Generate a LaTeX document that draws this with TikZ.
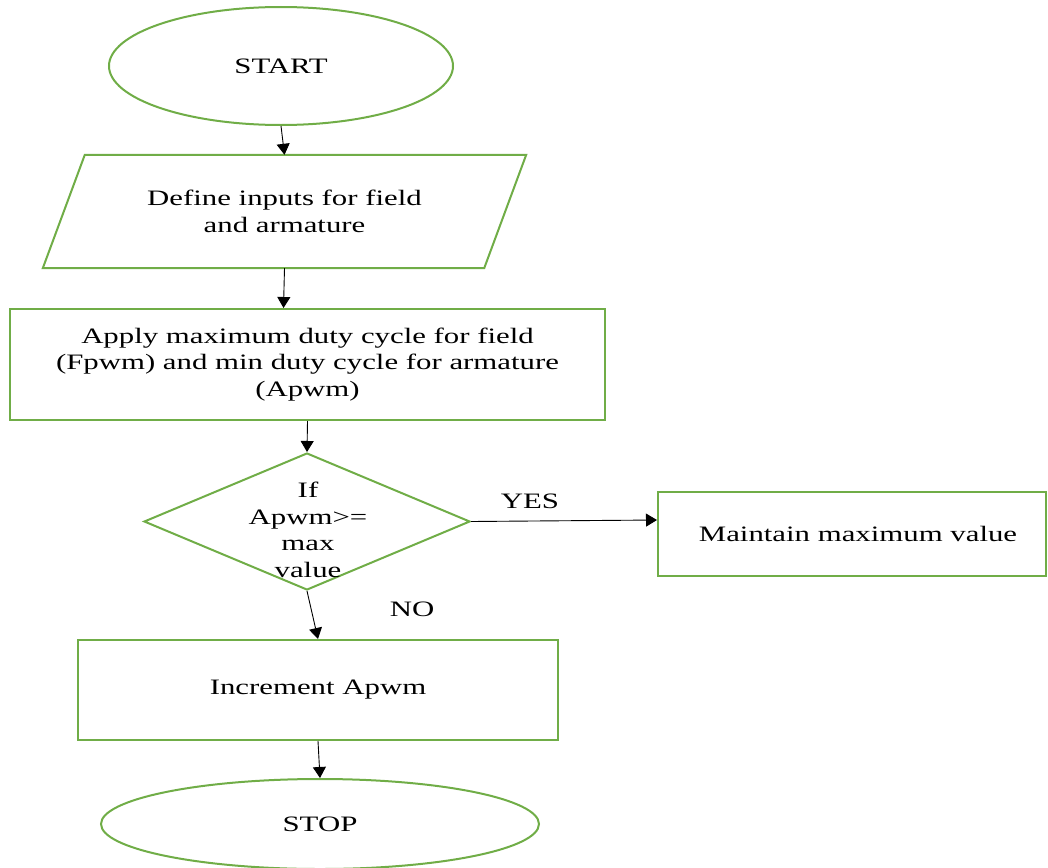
\documentclass[tikz,border=0pt]{standalone}
\usepackage{fontspec}
\setmainfont{Liberation Serif}[FakeStretch=1.40]
\usetikzlibrary{shapes.geometric,arrows.meta}
\definecolor{flowgreen}{RGB}{112,173,71}
\tikzset{
  box/.style={draw=flowgreen, line width=2pt, rectangle, align=center, inner sep=0pt},
  term/.style={draw=flowgreen, line width=2pt, ellipse, inner sep=0pt},
  decide/.style={draw=flowgreen, line width=2pt, diamond, inner sep=0pt},
  plain/.style={inner sep=0pt, align=center},
  conn/.style={draw=black, line width=0.9pt, -{Triangle[length=11pt,width=13pt]}},
}
\begin{document}
\begin{tikzpicture}[x=1pt, y=-1pt, font=\fontsize{22}{26.5}\selectfont]
\useasboundingbox (0,0) rectangle (1048,867);
\node[term, minimum width=344pt, minimum height=118pt] (start) at (281,66) {START};
\node[plain, minimum width=441pt, minimum height=113pt] (para) at (284.5,211.5) {Define inputs for field\\and armature};
\draw[flowgreen, line width=2pt, line join=miter]
  ([xshift=21pt]para.north west) -- ([xshift=21pt]para.north east)
  -- ([xshift=-21pt]para.south east) -- ([xshift=-21pt]para.south west) -- cycle;
\node[box, minimum width=595pt, minimum height=111pt] (apply) at (307.5,364.5)
  {Apply maximum duty cycle for field\\(Fpwm) and min duty cycle for armature\\(Apwm)};
\node[decide, minimum width=326pt, minimum height=137pt] (dec) at (307,521.5) {};
\node[plain] (dtext) at (308,530) {If\\Apwm>=\\max\\value};
\node[box, minimum width=388pt, minimum height=84pt] (keep) at (852,534) {\hspace*{12pt}Maintain maximum value};
\node[box, minimum width=480pt, minimum height=100pt] (inc) at (318,690) {Increment Apwm};
\node[term, minimum width=438pt, minimum height=90pt] (stop) at (320,824) {STOP};
\node[plain, anchor=base] (yes) at (530,508) {YES};
\node[plain, anchor=base] (no) at (412,616) {NO};
\draw[conn] (start.south) -- (para.north);
\draw[conn] (para.south) -- ([xshift=-24pt]apply.north);
\draw[conn] (apply.south) -- (dec.north);
\draw[conn] (dec.east) -- ([yshift=14pt]keep.west);
\draw[conn] (dec.south) -- (inc.north);
\draw[conn] (inc.south) -- (stop.north);
\end{tikzpicture}
\end{document}
